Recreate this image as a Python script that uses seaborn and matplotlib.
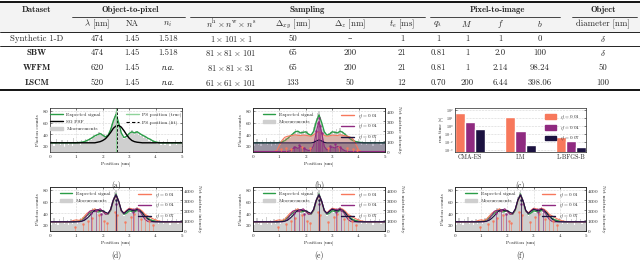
import numpy as np
import pandas as pd
import seaborn as sns
import matplotlib.pyplot as plt
from matplotlib.lines import Line2D
from matplotlib.patches import Patch, Rectangle

# ---------------- data ----------------
# table
group_names = ["Object-to-pixel", "Sampling", "Pixel-to-image", "Object"]
col_names = [r"$\lambda$ [nm]", "NA", r"$n_i$",
             r"$n^{\mathrm{h}}\times n^{\mathrm{w}}\times n^{\mathrm{s}}$",
             r"$\Delta_{xy}$ [nm]", r"$\Delta_z$ [nm]", r"$t_e$ [ms]",
             r"$q_\lambda$", r"$M$", r"$f$", r"$b$", "diameter [nm]"]
datasets = ["Synthetic 1-D", "SBW", "WFFM", "LSCM"]
row_synth = ["474", "1.45", "1.518", r"$1\times101\times1$", "50", "\u2013", "1", "1", "1", "1", "0", r"$\delta$"]
row_sbw = ["474", "1.45", "1.518", r"$81\times81\times101$", "65", "200", "21", "0.81", "1", "2.0", "100", r"$\delta$"]
row_wffm = ["620", "1.45", "n.a.", r"$81\times81\times31$", "65", "200", "21", "0.81", "1", "2.14", "98.24", "50"]
row_lscm = ["520", "1.45", "n.a.", r"$61\times61\times101$", "133", "50", "12", "0.70", "200", "6.44", "398.06", "100"]

# 1-D signals (positions in um)
x_pix = np.linspace(0, 5, 101)   # 101 pixels, 50 nm
x_fine = np.linspace(0, 5, 51)

# (a) synthetic 1-D, single point source
expected_a = [25, 25, 25, 25, 25, 25, 25, 25, 25, 25, 25,
              25.5, 26, 27, 29, 31, 34, 37, 39, 41,
              38, 35, 38, 48, 63, 74, 60, 42, 34, 36,
              41, 44, 42, 44, 41, 38, 36, 33, 31, 28,
              26.5, 25.5, 25, 25, 25, 25, 25, 25, 25, 25, 25]
sg_psf_a = [25, 25, 25, 25, 25, 25, 25, 25, 25, 25, 25, 25, 25, 25, 25, 25, 25, 25,
            26, 27, 29, 32, 37, 43, 50, 54, 55, 52, 46, 39, 33, 29, 27, 26, 25.5,
            25, 25, 25, 25, 25, 25, 25, 25, 25, 25, 25, 25, 25, 25, 25, 25]
meas_a = [22, 28, 24, 19, 27, 31, 23, 25, 21, 29, 26, 18, 24, 30, 22, 27, 25, 20, 33, 24,
          23, 28, 26, 21, 30, 27, 25, 32, 29, 26, 34, 30, 33, 38, 35, 41, 37, 44, 39, 42,
          36, 40, 33, 38, 37, 46, 50, 58, 65, 71, 78, 68, 57, 47, 40, 35, 31, 37, 34, 39,
          42, 40, 47, 43, 39, 45, 46, 38, 41, 36, 40, 33, 35, 31, 34, 28, 30, 26, 29, 24,
          27, 23, 26, 29, 21, 25, 28, 22, 26, 31, 24, 20, 27, 25, 23, 29, 22, 26, 24, 28, 25]
ps_true = 2.50
ps_fit = 2.53

# SBW signal (b, d, e, f)
expected_sbw = [25, 25, 25, 25, 25, 25, 25, 25, 25, 25,
                25.5, 26.5, 28.5, 32, 36, 40, 44, 45, 42, 43,
                44, 40, 38, 45, 62, 73, 60, 44, 38, 40,
                44, 43, 42, 45, 43, 39, 35, 31, 28.5, 27,
                26, 25.5, 25, 25, 25, 25, 25, 25, 25, 25, 25]
meas_sbw = [24, 19, 27, 31, 22, 26, 20, 29, 25, 23, 34, 21, 26, 28, 19, 25, 30, 22, 27, 24,
            29, 22, 27, 31, 26, 33, 30, 36, 34, 41, 38, 44, 48, 40, 46, 43, 39, 45, 47, 41,
            44, 46, 39, 41, 37, 44, 52, 60, 68, 76, 79, 70, 58, 49, 43, 39, 35, 42, 38, 44,
            47, 41, 45, 49, 39, 44, 50, 41, 46, 38, 42, 35, 37, 32, 29, 33, 27, 30, 25, 28,
            31, 24, 22, 28, 26, 33, 21, 27, 24, 30, 25, 19, 28, 35, 23, 26, 29, 22, 27, 24, 26]

eta_labels = [r"$\eta_l = 0.01$", r"$\eta_l = 0.04$", r"$\eta_l = 0.07$"]

# (b) net mixture intensity
mix_b_01 = [0, 0, 0, 0, 0, 0, 0, 0, 0,
            10, 60, 110, 140, 150, 155, 160, 165, 160, 158, 162,
            160, 155, 150, 165, 185, 195, 180, 160, 150, 155,
            162, 160, 158, 165, 160, 155, 150, 140, 120, 70, 15,
            0, 0, 0, 0, 0, 0, 0, 0, 0, 0]
mix_b_04 = [0, 0, 0, 0, 0, 0, 0, 0, 0, 0, 0, 0, 0, 0,
            5, 25, 45, 30, 50, 35, 20, 10, 15, 60, 200, 300, 190, 50, 15, 30,
            45, 35, 50, 40, 20, 5,
            0, 0, 0, 0, 0, 0, 0, 0, 0, 0, 0, 0, 0, 0, 0]
mix_b_07 = [85] * 23 + [90, 105, 115, 105, 90] + [85] * 23
stem_b_04_pos = [1.55, 1.75, 1.95, 2.4, 2.45, 2.5, 2.55, 2.6, 2.9, 3.1, 3.3]
stem_b_04_h = [40, 60, 30, 200, 280, 330, 250, 180, 50, 70, 40]
stem_b_01_pos = [1.05, 1.25, 1.45, 1.85, 2.15, 2.85, 3.25, 3.55, 3.8, 3.95]
stem_b_01_h = [20, 35, 25, 40, 30, 35, 40, 30, 25, 15]

# (d, e, f) net mixture intensity
mix_d_01 = [860] * 8 + [900, 1000,
            1050, 1000, 1100, 1400, 1700, 1850, 2000, 2150, 1900, 2050,
            1900, 1700, 1650, 2050, 2950, 3450, 2850, 1950, 1750, 2000,
            2200, 2150, 2050, 2200, 2100, 1900, 1600, 1450, 1300, 1150,
            1050, 950, 900] + [860] * 8
mix_d_04 = [860] * 12 + [900, 1100, 1500, 1900, 2000, 1850, 2000, 2150,
            1900, 1600, 1650, 2100, 3050, 3550, 2950, 1950, 1650, 1950,
            2150, 2050, 2100, 2150, 1900, 1500, 1100, 900] + [860] * 13
mix_d_07 = [860] * 10 + [870, 880, 920, 1000, 1200, 1450, 1750, 2000, 2050, 1950,
            1950, 1800, 1700, 2100, 3000, 3500, 2900, 2000, 1700, 1900,
            2100, 2000, 1950, 2100, 2000, 1750, 1400, 1150, 950, 880,
            860, 860] + [860] * 9
stem_d_01_pos = [0.95, 1.25, 1.45, 1.6, 1.85, 2.05, 2.15, 2.45, 2.55, 2.85, 3.05, 3.2, 3.45, 3.6, 3.75, 3.9]
stem_d_01_h = [300, 600, 900, 1200, 1500, 900, 700, 1800, 1500, 800, 1300, 1600, 1100, 1400, 900, 500]
stem_d_04_pos = [1.55, 1.75, 1.95, 2.5, 3.15, 3.35]
stem_d_04_h = [1700, 2000, 1600, 2600, 1800, 2000]
stem_d_07_pos = [2.5]
stem_d_07_h = [3000]

# (c) run time
methods = ["CMA-ES", "LM", "L-BFGS-B"]
time_01 = [45, 13, 0.05]
time_04 = [4.0, 0.29, 0.016]
time_07 = [0.47, 0.005, 0.0026]

# ---------------- style ----------------
sns.set_style("ticks")
plt.rcParams['font.family'] = ['cmr10', 'DejaVu Serif']
plt.rcParams['mathtext.fontset'] = 'cm'
plt.rcParams['axes.formatter.use_mathtext'] = True
plt.rcParams['axes.unicode_minus'] = False

green = "#2a9d47"
light_green = "#8fd39a"
gray = "#cfcfcf"
eta_colors = ["#f7785c", "#8f2a80", "#1c1240"]
FS = 3.6

W, H = 640, 261
fig = plt.figure(figsize=(6.4, 2.61), dpi=100)


def fx(x):
    return x / W


def fy(y):
    return 1 - y / H


def hline(x0, x1, y, lw):
    fig.add_artist(Line2D([fx(x0), fx(x1)], [fy(y), fy(y)], transform=fig.transFigure,
                          color="black", lw=lw))


# ---------------- table ----------------
fig.add_artist(Rectangle((0, fy(31.5)), 1, fy(2) - fy(31.5), transform=fig.transFigure,
                         color="#f3f3f3", lw=0, zorder=0))
TS = 6.3
col_x = [97, 132, 168, 231, 293, 350, 402, 438, 467, 500, 540, 603]
group_x = [130, 307, 497, 603]
group_span = [(72, 185), (190, 425), (430, 560), (572, 637)]
row_y = [39, 53, 68, 83]

fig.text(fx(37), fy(10), "Dataset", ha="center", va="center", fontsize=TS, family=["cmb10", "DejaVu Serif"])
for name, gx, (s0, s1) in zip(group_names, group_x, group_span):
    fig.text(fx(gx), fy(10), name, ha="center", va="center", fontsize=TS, family=["cmb10", "DejaVu Serif"])
    hline(s0, s1, 17, 0.5)
for name, cx in zip(col_names, col_x):
    fig.text(fx(cx), fy(24), name, ha="center", va="center", fontsize=TS)
for i, (ds, row) in enumerate(zip(datasets, [row_synth, row_sbw, row_wffm, row_lscm])):
    fam = ["cmr10", "DejaVu Serif"] if i == 0 else ["cmb10", "DejaVu Serif"]
    fig.text(fx(37), fy(row_y[i]), ds, ha="center", va="center", fontsize=TS, family=fam)
    for val, cx in zip(row, col_x):
        if val == "n.a.":
            fig.text(fx(cx), fy(row_y[i]), val, ha="center", va="center", fontsize=TS,
                     family=["Liberation Serif"], style="italic")
        else:
            fig.text(fx(cx), fy(row_y[i]), val, ha="center", va="center", fontsize=TS)
hline(0, 640, 1.5, 1.3)
hline(0, 640, 31.5, 0.6)
hline(0, 640, 46, 0.6)
hline(0, 640, 89.5, 1.3)


# ---------------- plots ----------------
def style_ax(ax, right=False):
    ax.tick_params(direction="in", length=1.5, width=0.4, labelsize=FS, pad=1,
                   top=not right, right=not right)
    for s in ax.spines.values():
        s.set_linewidth(0.5)


def position_axes(ax):
    ax.set_xlim(0, 5)
    ax.set_ylim(10, 85)
    ax.set_xticks([0, 1, 2, 3, 4, 5])
    ax.set_yticks([20, 40, 60, 80])
    ax.grid(True, ls=":", lw=0.4, color="#b0b0b0")
    ax.set_xlabel("Position [um]", fontsize=FS, labelpad=1)
    ax.set_ylabel("Photon counts", fontsize=FS, labelpad=1)
    style_ax(ax)


def mixture_panel(ax, mixes, stems, ymax, yticks, fill):
    ax.bar(x_pix, meas_sbw, width=0.05, color=gray, lw=0)
    sns.lineplot(x=x_fine, y=expected_sbw, ax=ax, color=green, lw=1.0)
    position_axes(ax)
    ax2 = ax.twinx()
    for mix, col in zip(mixes, eta_colors):
        if fill:
            ax2.fill_between(x_fine, 0, mix, color=col, alpha=0.3, lw=0)
        sns.lineplot(x=x_fine, y=mix, ax=ax2, color=col, lw=0.8)
    for (pos, h), col in zip(stems, eta_colors):
        ax2.vlines(pos, 0, h, color=col, lw=0.5, alpha=0.8)
        ax2.plot(pos, h, "o", color=col, ms=0.9, alpha=0.8)
    ax2.set_ylim(0, ymax)
    ax2.set_yticks(yticks)
    ax2.set_ylabel("Net mixture intensity", fontsize=FS, rotation=270, labelpad=4)
    ax2.tick_params(direction="in", length=1.5, width=0.4, labelsize=FS, pad=1)
    for s in ax2.spines.values():
        s.set_linewidth(0.5)
    leg1 = ax2.legend([Line2D([], [], color=green, lw=1.0), Patch(color=gray)],
                      ["Expected signal", "Measurements"], loc="upper left",
                      bbox_to_anchor=(0.04, 1.0), frameon=False, fontsize=FS,
                      handlelength=2.5, labelspacing=0.5)
    ax2.add_artist(leg1)
    ax2.legend([Line2D([], [], color=c, lw=1.0) for c in eta_colors], eta_labels,
               loc="upper right", bbox_to_anchor=(0.98, 1.0), frameon=False, fontsize=FS,
               handlelength=2.5, labelspacing=0.5)


def axes_box(left, top, width=132, height=43.5):
    return fig.add_axes([fx(left), fy(top + height), width / W, height / H])


# (a)
ax_a = axes_box(50, 108)
ax_a.bar(x_pix, meas_a, width=0.05, color=gray, lw=0)
sns.lineplot(x=x_fine, y=expected_a, ax=ax_a, color=green, lw=1.0)
sns.lineplot(x=x_fine, y=sg_psf_a, ax=ax_a, color="black", lw=1.0)
ax_a.axvline(ps_true, color=light_green, lw=0.8)
ax_a.axvline(ps_fit, color="black", lw=0.6, ls=(0, (3, 2)))
position_axes(ax_a)
ax_a.legend([Line2D([], [], color=green, lw=1.0), Line2D([], [], color="black", lw=1.0),
             Patch(color=gray), Line2D([], [], color=light_green, lw=1.0),
             Line2D([], [], color="black", lw=0.8, ls=(0, (3, 2)))],
            ["Expected signal", "SG PSF", "Measurements", "PS position (true)", "PS position (fit)"],
            ncol=2, loc="upper center", frameon=False, fontsize=FS, handlelength=2.5,
            columnspacing=5, labelspacing=0.5)

# (c)
ax_c = axes_box(455, 108, width=131)
df_c = pd.DataFrame({
    "method": methods * 3,
    "time": time_01 + time_04 + time_07,
    "eta": ["0.01"] * 3 + ["0.04"] * 3 + ["0.07"] * 3,
})
sns.barplot(data=df_c, x="method", y="time", hue="eta", palette=eta_colors, ax=ax_c,
            width=0.6, legend=False, saturation=1)
ax_c.set_yscale("log")
ax_c.set_ylim(7e-4, 2e2)
ax_c.set_xlim(-0.3, 2.3)
ax_c.set_yticks([1e-3, 1e-2, 1e-1, 1e0, 1e1, 1e2])
ax_c.minorticks_off()
ax_c.grid(True, axis="y", ls=":", lw=0.4, color="#b0b0b0")
ax_c.set_axisbelow(True)
ax_c.set_xlabel("")
ax_c.set_ylabel("run time [s]", fontsize=FS, labelpad=1)
style_ax(ax_c)
ax_c.tick_params(axis="y", labelsize=2.9)
ax_c.tick_params(axis="x", labelsize=FS + 0.8, length=0, pad=2)
ax_c.legend([Patch(color=c) for c in eta_colors], eta_labels, loc="upper right",
            bbox_to_anchor=(0.99, 0.97), frameon=False, fontsize=FS, handlelength=2.2,
            handleheight=1.0, labelspacing=0.5)

# (b)
ax_b = axes_box(253, 108)
mixture_panel(ax_b, [mix_b_01, mix_b_04, mix_b_07],
              [(stem_b_01_pos, stem_b_01_h), (stem_b_04_pos, stem_b_04_h), ([], [])],
              430, [0, 100, 200, 300, 400], True)

# (d), (e), (f)
stems_d = [(stem_d_01_pos, stem_d_01_h), (stem_d_04_pos, stem_d_04_h), (stem_d_07_pos, stem_d_07_h)]
for left in [50, 253]:
    ax = axes_box(left, 187)
    mixture_panel(ax, [mix_d_01, mix_d_04, mix_d_07], stems_d, 4300,
                  [0, 1000, 2000, 3000, 4000], False)
ax_f = axes_box(455, 187, width=131)
mixture_panel(ax_f, [mix_d_01, mix_d_04, mix_d_07], stems_d, 4300,
              [0, 1000, 2000, 3000, 4000], False)

# captions
for lab, cx, cy in zip(["(a)", "(b)", "(c)", "(d)", "(e)", "(f)"],
                       [116, 319, 520, 116, 319, 520], [185, 185, 185, 255, 255, 255]):
    fig.text(fx(cx), fy(cy), lab, ha="center", va="center", fontsize=5.5)

fig.savefig("out.png", dpi=100)
